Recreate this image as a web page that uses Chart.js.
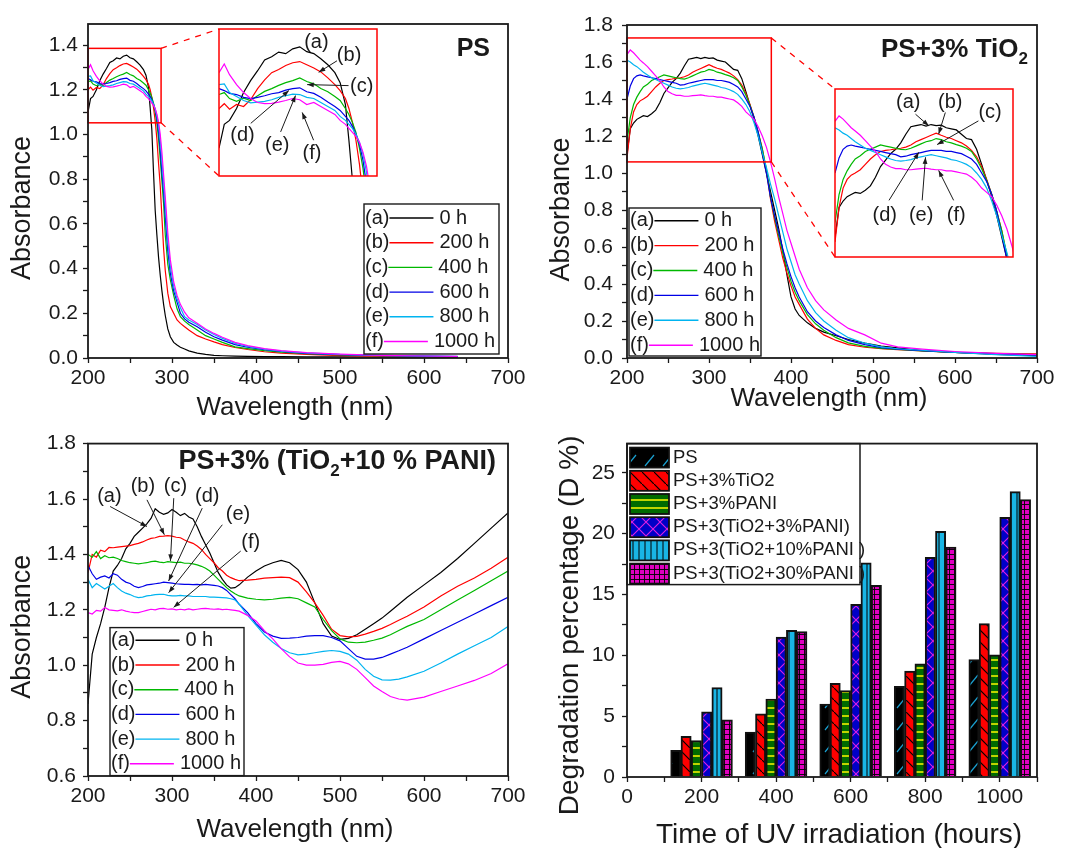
<!DOCTYPE html>
<html>
<head>
<meta charset="utf-8">
<script src="https://cdn.jsdelivr.net/npm/chart.js@4.4.1/dist/chart.umd.min.js"></script>
<style>
  html, body { margin: 0; padding: 0; background: #fff; overflow: hidden; }
  body { width: 1069px; height: 848px; position: relative; }
  canvas { position: absolute; }
</style>
</head>
<body>
<canvas id="cPS"  width="534" height="424" style="left:0;top:0"></canvas>
<canvas id="cTi"  width="535" height="424" style="left:534px;top:0"></canvas>
<canvas id="cPa"  width="534" height="424" style="left:0;top:424px"></canvas>
<canvas id="cBar" width="535" height="424" style="left:534px;top:424px"></canvas>
<canvas id="iPS"  width="160" height="149" style="left:218px;top:28px"></canvas>
<canvas id="iTi"  width="180" height="170" style="left:834px;top:88px"></canvas>

<script>
/*********************************************************
 * DATA : PS
 *********************************************************/
const psWl = [200,203,206,210,214,218,222,226,230,234, 238,242,246,250,254,258,262,266,269,272,
  274,276,278,280,282,284,286,288,290,292, 295,298,302,306,310,315,320,330,340,350,
  360,375,390,410,430,460,500,550,600,640];

const ps0 = [1.10,1.16,1.17,1.20,1.24,1.27,1.295,1.322,1.33,1.342, 1.338,1.35,1.355,1.343,1.338,1.325,1.31,1.29,1.265,1.21,
  1.12,1.02,0.83,0.66,0.55,0.45,0.37,0.30,0.24,0.19, 0.13,0.095,0.07,0.058,0.048,0.04,0.032,0.022,0.016,0.012,
  0.010,0.008,0.007,0.006,0.006,0.005,0.005,0.004,0.004,0.003];
const ps200 = [1.20,1.212,1.198,1.21,1.205,1.222,1.25,1.272,1.29,1.298, 1.308,1.315,1.318,1.31,1.302,1.292,1.277,1.26,1.245,1.225,
  1.20,1.165,1.12,1.06,0.98,0.87,0.77,0.63,0.49,0.39, 0.29,0.23,0.20,0.17,0.155,0.14,0.125,0.10,0.085,0.072,
  0.06,0.047,0.038,0.028,0.022,0.016,0.011,0.008,0.006,0.005];
const ps400 = [1.235,1.24,1.225,1.218,1.226,1.22,1.232,1.243,1.25,1.258, 1.265,1.27,1.277,1.268,1.262,1.25,1.242,1.23,1.22,1.20,
  1.185,1.165,1.14,1.10,1.05,0.98,0.89,0.79,0.69,0.55, 0.42,0.35,0.28,0.22,0.185,0.165,0.15,0.125,0.10,0.085,
  0.07,0.05,0.042,0.033,0.026,0.019,0.014,0.010,0.008,0.006];
const ps600 = [1.25,1.245,1.238,1.235,1.228,1.225,1.228,1.232,1.237,1.24, 1.246,1.25,1.252,1.242,1.238,1.228,1.216,1.205,1.195,1.18,
  1.17,1.155,1.135,1.11,1.07,1.01,0.93,0.83,0.74,0.63, 0.48,0.38,0.30,0.25,0.20,0.175,0.16,0.14,0.115,0.095,
  0.08,0.06,0.048,0.037,0.029,0.021,0.015,0.011,0.008,0.006];
const ps800 = [1.26,1.262,1.24,1.23,1.22,1.214,1.216,1.218,1.222,1.228, 1.232,1.236,1.235,1.228,1.225,1.215,1.205,1.195,1.18,1.17,
  1.16,1.15,1.135,1.115,1.085,1.04,0.97,0.88,0.78,0.68, 0.52,0.41,0.32,0.265,0.225,0.185,0.17,0.15,0.125,0.105,
  0.088,0.066,0.052,0.04,0.031,0.023,0.016,0.012,0.009,0.007];
const ps1000 = [1.29,1.312,1.285,1.26,1.24,1.225,1.215,1.212,1.213,1.216, 1.22,1.225,1.222,1.21,1.215,1.205,1.195,1.185,1.17,1.16,
  1.15,1.14,1.13,1.115,1.09,1.055,1.00,0.92,0.82,0.72, 0.56,0.44,0.34,0.28,0.24,0.205,0.18,0.155,0.13,0.11,
  0.093,0.07,0.055,0.042,0.033,0.024,0.017,0.012,0.009,0.007];

/*********************************************************
 * DATA : PS + 3% TiO2
 *********************************************************/
const tiWl = [200,204,208,212,216,220,225,230,235,240, 245,250,255,260,265,270,275,280,285,290,
  295,300,305,310,315,320,325,330,335,340, 345,350,355,360,365,370,375,380,385,390,
  395,400,405,410,420,430,440,455,470,490, 510,530,560,600,650,700];

const ti0 = [1.10,1.24,1.27,1.29,1.30,1.31,1.305,1.32,1.34,1.38, 1.43,1.46,1.49,1.51,1.54,1.58,1.615,1.62,1.625,1.618,
  1.625,1.62,1.622,1.61,1.605,1.60,1.58,1.56,1.555,1.51, 1.44,1.365,1.29,1.20,1.10,1.00,0.90,0.80,0.70,0.58,
  0.45,0.33,0.265,0.23,0.19,0.16,0.14,0.12,0.10,0.08, 0.065,0.055,0.04,0.03,0.02,0.013];
const ti200 = [1.08,1.24,1.33,1.37,1.39,1.40,1.415,1.44,1.465,1.485, 1.50,1.505,1.508,1.512,1.515,1.52,1.53,1.545,1.555,1.565,
  1.575,1.585,1.575,1.566,1.56,1.55,1.54,1.525,1.505,1.475, 1.43,1.37,1.30,1.22,1.13,1.01,0.86,0.74,0.64,0.54,
  0.46,0.39,0.33,0.29,0.21,0.16,0.125,0.095,0.072,0.058, 0.05,0.045,0.038,0.03,0.025,0.022];
const ti400 = [1.17,1.30,1.37,1.41,1.44,1.465,1.48,1.50,1.51,1.52, 1.53,1.525,1.52,1.515,1.51,1.508,1.515,1.525,1.535,1.545,
  1.55,1.56,1.555,1.545,1.54,1.532,1.525,1.515,1.50,1.465, 1.42,1.365,1.30,1.22,1.13,1.02,0.87,0.76,0.66,0.57,
  0.49,0.415,0.355,0.31,0.235,0.185,0.15,0.11,0.082,0.063, 0.052,0.046,0.038,0.03,0.024,0.019];
const ti600 = [1.40,1.47,1.51,1.525,1.53,1.525,1.52,1.515,1.51,1.505, 1.50,1.495,1.49,1.485,1.475,1.478,1.485,1.49,1.495,1.50,
  1.505,1.505,1.505,1.50,1.50,1.495,1.49,1.478,1.465,1.44, 1.40,1.36,1.30,1.22,1.11,1.00,0.87,0.77,0.68,0.59,
  0.51,0.44,0.38,0.33,0.25,0.20,0.165,0.125,0.095,0.072, 0.056,0.048,0.04,0.03,0.022,0.016];
const ti800 = [1.61,1.60,1.585,1.575,1.56,1.545,1.53,1.515,1.505,1.495, 1.485,1.475,1.465,1.458,1.455,1.458,1.462,1.47,1.475,1.48,
  1.485,1.48,1.475,1.47,1.462,1.458,1.45,1.44,1.425,1.40, 1.37,1.33,1.27,1.20,1.11,1.03,0.94,0.86,0.77,0.68,
  0.59,0.52,0.45,0.40,0.31,0.245,0.20,0.15,0.11,0.08, 0.06,0.05,0.042,0.03,0.018,0.009];
const ti1000 = [1.64,1.665,1.65,1.63,1.61,1.595,1.575,1.55,1.525,1.50, 1.465,1.44,1.428,1.42,1.42,1.415,1.415,1.418,1.42,1.422,
  1.418,1.415,1.415,1.41,1.41,1.405,1.40,1.395,1.38,1.36, 1.33,1.31,1.29,1.25,1.20,1.14,1.06,0.97,0.87,0.78,
  0.69,0.62,0.55,0.48,0.38,0.31,0.26,0.205,0.16,0.125, 0.08,0.06,0.048,0.035,0.025,0.018];

/*********************************************************
 * DATA : PS + 3% (TiO2 + 10% PANI)
 *********************************************************/
const paWl = [200,205,210,215,220,225,230,235,240,245, 250,255,260,265,270,275,280,285,290,295,
  300,305,310,315,320,325,330,335,340,345, 350,355,360,365,370,375,380,390,400,410,
  420,430,440,450,460,470,480,490,500,510, 520,530,540,550,560,570,580,600,620,640,
  660,680,700];

const pa0 = [0.86,1.04,1.10,1.15,1.21,1.28,1.34,1.36,1.385,1.42, 1.44,1.465,1.48,1.495,1.51,1.53,1.565,1.552,1.545,1.55,
  1.562,1.552,1.54,1.548,1.535,1.528,1.50,1.465,1.435,1.405, 1.37,1.335,1.31,1.29,1.278,1.28,1.29,1.318,1.34,1.358,
  1.37,1.378,1.37,1.345,1.30,1.225,1.15,1.105,1.093,1.097, 1.11,1.13,1.15,1.17,1.195,1.22,1.245,1.29,1.335,1.385,
  1.44,1.495,1.55];
const pa200 = [1.334,1.40,1.39,1.415,1.41,1.425,1.424,1.426,1.428,1.43, 1.432,1.436,1.44,1.445,1.452,1.458,1.46,1.465,1.466,1.468,
  1.466,1.462,1.46,1.452,1.445,1.44,1.43,1.418,1.40,1.385, 1.37,1.352,1.34,1.325,1.316,1.31,1.305,1.307,1.31,1.314,
  1.316,1.318,1.316,1.30,1.265,1.225,1.18,1.13,1.107,1.102, 1.104,1.112,1.122,1.133,1.147,1.162,1.177,1.21,1.25,1.285,
  1.315,1.35,1.39];
const pa400 = [1.40,1.39,1.41,1.385,1.395,1.388,1.39,1.385,1.378,1.374, 1.37,1.368,1.366,1.368,1.37,1.374,1.376,1.372,1.37,1.374,
  1.372,1.37,1.372,1.368,1.368,1.366,1.362,1.357,1.35,1.34, 1.325,1.31,1.295,1.28,1.268,1.258,1.25,1.242,1.238,1.236,
  1.238,1.242,1.245,1.24,1.225,1.21,1.165,1.125,1.095,1.083, 1.081,1.083,1.09,1.098,1.11,1.125,1.14,1.165,1.20,1.235,
  1.27,1.305,1.34];
const pa600 = [1.36,1.33,1.31,1.318,1.322,1.315,1.33,1.325,1.31,1.30, 1.295,1.285,1.28,1.284,1.29,1.292,1.294,1.296,1.30,1.298,
  1.296,1.294,1.293,1.292,1.292,1.291,1.292,1.29,1.292,1.29, 1.288,1.286,1.28,1.27,1.255,1.24,1.22,1.19,1.15,1.12,
  1.105,1.097,1.098,1.10,1.105,1.107,1.107,1.10,1.088,1.06, 1.032,1.022,1.022,1.028,1.04,1.052,1.065,1.095,1.125,1.155,
  1.185,1.215,1.245];
const pa800 = [1.31,1.28,1.295,1.285,1.275,1.285,1.295,1.28,1.268,1.26, 1.255,1.248,1.244,1.246,1.25,1.252,1.255,1.256,1.256,1.252,
  1.25,1.25,1.252,1.25,1.25,1.248,1.248,1.248,1.248,1.246, 1.246,1.245,1.244,1.243,1.24,1.236,1.22,1.18,1.145,1.11,
  1.083,1.06,1.045,1.037,1.04,1.045,1.05,1.053,1.05,1.04, 1.018,0.985,0.96,0.947,0.946,0.95,0.958,0.978,1.008,1.04,
  1.07,1.10,1.14];
const pa1000 = [1.19,1.185,1.198,1.195,1.208,1.20,1.198,1.196,1.20,1.195, 1.192,1.19,1.19,1.194,1.198,1.202,1.20,1.204,1.205,1.202,
  1.203,1.20,1.202,1.20,1.203,1.20,1.202,1.204,1.205,1.203, 1.202,1.203,1.201,1.202,1.20,1.198,1.195,1.18,1.16,1.125,
  1.095,1.06,1.03,1.008,1.0,1.0,1.003,1.01,1.014,1.005, 0.985,0.955,0.925,0.905,0.887,0.878,0.874,0.885,0.905,0.925,
  0.945,0.97,1.005];

/*********************************************************
 * DATA : DEGRADATION (%)
 *********************************************************/
const hours    = [200, 400, 600, 800, 1000];
const degPS    = [2.2, 3.7, 6.0, 7.45, 9.65];
const degTiO2  = [3.35, 5.2, 7.7, 8.7, 12.6];
const degPANI  = [3.0, 6.4, 7.1, 9.3, 10.05];
const degTP3   = [5.35, 11.5, 14.2, 18.05, 21.35];
const degTP10  = [7.35, 12.05, 17.6, 20.2, 23.45];
const degTP30  = [4.7, 11.95, 15.75, 18.9, 22.8];
const barNames = ['PS', 'PS+3%TiO2', 'PS+3%PANI', 'PS+3(TiO2+3%PANI)', 'PS+3(TiO2+10%PANI )', 'PS+3(TiO2+30%PANI )'];

const letters    = ['(a)', '(b)', '(c)', '(d)', '(e)', '(f)'];
const hourLabels = ['0 h', '200 h', '400 h', '600 h', '800 h', '1000 h'];

/*********************************************************
 * STYLE
 *********************************************************/
const FONT = '"Liberation Sans", Arial, sans-serif';
const INK  = '#1a1a1a';
const lineColors = ['#000000', '#ff0000', '#00b800', '#0000e6', '#00b4f0', '#ff00ff'];

Chart.defaults.font.family = FONT;
Chart.defaults.color = INK;

/*********************************************************
 * PLUGINS
 *********************************************************/
const framePlugin = {
  id: 'frame',
  afterDraw(chart, args, o) {
    const { ctx, chartArea: a } = chart;
    ctx.save();
    ctx.strokeStyle = o.color || INK;
    ctx.lineWidth = o.width || 1.8;
    ctx.strokeRect(a.left, a.top, a.right - a.left, a.bottom - a.top);
    ctx.restore();
  }
};

// axis titles drawn by hand so they can sit where the original has them
const axisTitles = {
  id: 'axisTitles',
  afterDraw(chart, args, o) {
    const { ctx, chartArea: a } = chart;
    ctx.save();
    ctx.fillStyle = INK;
    ctx.textAlign = 'center'; ctx.textBaseline = 'middle';
    ctx.font = o.ySize + 'px ' + FONT;
    ctx.translate(o.yx, (a.top + a.bottom) / 2 + o.yShift);
    ctx.rotate(-Math.PI / 2);
    ctx.fillText(o.yText, 0, 0);
    ctx.setTransform(1, 0, 0, 1, 0, 0);
    ctx.font = o.xSize + 'px ' + FONT;
    ctx.fillText(o.xText, (a.left + a.right) / 2 + o.xShift, o.xy);
    ctx.restore();
  }
};

const seriesLegend = {
  id: 'seriesLegend',
  afterDraw(chart, args, o) {
    const { ctx, chartArea: a } = chart;
    const x0 = a.left + o.dx, y0 = a.top + o.dy;
    ctx.save();
    ctx.fillStyle = '#fff';
    ctx.fillRect(x0, y0, o.w, o.h);
    ctx.strokeStyle = INK; ctx.lineWidth = 1.4;
    ctx.strokeRect(x0, y0, o.w, o.h);
    ctx.font = '20px ' + FONT;
    ctx.textBaseline = 'middle';
    letters.forEach((l, i) => {
      const y = y0 + o.first + i * o.rowH;
      ctx.fillStyle = INK;
      ctx.fillText(l, x0 + 1, y);
      const lx = x0 + 1 + ctx.measureText(l).width;
      ctx.strokeStyle = lineColors[i]; ctx.lineWidth = 1.4;
      ctx.beginPath(); ctx.moveTo(lx, y); ctx.lineTo(lx + 44, y); ctx.stroke();
      ctx.fillText(hourLabels[i], lx + 50, y);
    });
    ctx.restore();
  }
};

function arrow(ctx, x1, y1, x2, y2) {
  const ang = Math.atan2(y2 - y1, x2 - x1);
  ctx.beginPath(); ctx.moveTo(x1, y1); ctx.lineTo(x2, y2); ctx.stroke();
  ctx.beginPath();
  ctx.moveTo(x2, y2);
  ctx.lineTo(x2 - 7 * Math.cos(ang - 0.35), y2 - 7 * Math.sin(ang - 0.35));
  ctx.lineTo(x2 - 7 * Math.cos(ang + 0.35), y2 - 7 * Math.sin(ang + 0.35));
  ctx.closePath(); ctx.fill();
}

// curve labels: [text, x, y, arrowFromX, arrowFromY, arrowToX, arrowToY] in data units
const notesPlugin = {
  id: 'notes',
  afterDraw(chart, args, o) {
    const { ctx, scales: { x, y } } = chart;
    ctx.save();
    ctx.font = '20px ' + FONT;
    ctx.textAlign = 'center'; ctx.textBaseline = 'middle';
    ctx.fillStyle = INK; ctx.strokeStyle = INK; ctx.lineWidth = 1;
    o.items.forEach(n => {
      ctx.fillText(n[0], x.getPixelForValue(n[1]), y.getPixelForValue(n[2]));
      if (n.length > 3) {
        arrow(ctx, x.getPixelForValue(n[3]), y.getPixelForValue(n[4]),
                   x.getPixelForValue(n[5]), y.getPixelForValue(n[6]));
      }
    });
    ctx.restore();
  }
};

const zoomBoxPlugin = {
  id: 'zoomBox',
  afterDatasetsDraw(chart, args, o) {
    const { ctx, scales: { x, y } } = chart;
    const l = x.getPixelForValue(o.x0), r = x.getPixelForValue(o.x1);
    const t = y.getPixelForValue(o.y1), b = y.getPixelForValue(o.y0);
    const bx = o.box.left + 1 - o.origin[0];
    const bt = o.box.top + 1 - o.origin[1];
    const bb = o.box.top + o.box.height - 1 - o.origin[1];
    ctx.save();
    ctx.strokeStyle = '#ff0000'; ctx.lineWidth = 1.5;
    ctx.strokeRect(l, t, r - l, b - t);
    ctx.setLineDash([6, 6]); ctx.lineWidth = 1.3;
    ctx.beginPath();
    ctx.moveTo(r, t); ctx.lineTo(bx, bt);
    ctx.moveTo(r, b); ctx.lineTo(bx, bb);
    ctx.stroke();
    ctx.restore();
  }
};

const panelTitle = {
  id: 'panelTitle',
  afterDraw(chart, args, o) {
    const { ctx, chartArea: a } = chart;
    const big = 'bold ' + o.size + 'px ' + FONT, small = 'bold ' + Math.round(o.size * 0.64) + 'px ' + FONT;
    ctx.save();
    let total = 0;
    o.parts.forEach(p => { ctx.font = p.sub ? small : big; total += ctx.measureText(p.t).width; });
    let x = a.right - o.dx - total;
    const base = a.top + o.dy + o.size * 0.36;
    ctx.fillStyle = INK; ctx.textBaseline = 'alphabetic';
    o.parts.forEach(p => {
      ctx.font = p.sub ? small : big;
      ctx.fillText(p.t, x, p.sub ? base + 7 : base);
      x += ctx.measureText(p.t).width;
    });
    ctx.restore();
  }
};

/*********************************************************
 * AXES
 *********************************************************/
function nmAxis(h) {
  return {
    type: 'linear', min: 200, max: 700,
    afterFit: s => { s.height = h; },
    border: { display: false },
    grid: { drawOnChartArea: false, tickLength: 5, tickColor: INK, tickWidth: 1.3 },
    ticks: { stepSize: 50, autoSkip: false, maxRotation: 0, padding: 3, includeBounds: false,
      font: { size: 21 }, callback: v => (v % 100 === 0 ? String(v) : '') }
  };
}

function absAxis(min, max, w, pad) {
  return {
    min, max,
    afterFit: s => { s.width = w; },
    border: { display: false },
    grid: { drawOnChartArea: false, tickLength: 5, tickColor: INK, tickWidth: 1.3 },
    ticks: { stepSize: 0.1, autoSkip: false, padding: pad, includeBounds: false, font: { size: 21 },
      callback: v => (Math.abs(v * 5 - Math.round(v * 5)) < 1e-6 ? v.toFixed(1) : '') }
  };
}

function spectra(wl, series) {
  return series.map((vals, i) => ({
    data: wl.map((w, k) => ({ x: w, y: vals[k] })),
    borderColor: lineColors[i],
    borderWidth: 1.2,
    pointRadius: 0,
    tension: 0,
    order: series.length - i
  }));
}

const baseOpts = { responsive: false, animation: false, events: [] };
const specTitles = { yText: 'Absorbance', ySize: 27, xText: 'Wavelength (nm)', xSize: 26, xShift: -3 };

/*********************************************************
 * INSET PLACEMENT (page px)
 *********************************************************/
const insetPS = { left: 218, top: 28, width: 160, height: 149 };
const insetTi = { left: 834, top: 88, width: 180, height: 170 };

/*********************************************************
 * CHART : PS
 *********************************************************/
const psSeries = [ps0, ps200, ps400, ps600, ps800, ps1000];

new Chart(document.getElementById('cPS'), {
  type: 'line',
  data: { datasets: spectra(psWl, psSeries) },
  options: {
    ...baseOpts,
    layout: { padding: { top: 24, right: 26, left: 0, bottom: 0 } },
    scales: { x: nmAxis(66), y: absAxis(0, 1.494, 88, 5) },
    plugins: {
      legend: { display: false }, tooltip: { enabled: false },
      axisTitles: { ...specTitles, yx: 23, yShift: 17, xy: 408 },
      zoomBox: { x0: 200, x1: 287, y0: 1.052, y1: 1.385, box: insetPS, origin: [0, 0] },
      seriesLegend: { dx: 276, dy: 180, w: 135, h: 150, first: 14, rowH: 24.7 },
      panelTitle: { parts: [{ t: 'PS' }], size: 25, dx: 18, dy: 23 }
    }
  },
  plugins: [zoomBoxPlugin, seriesLegend, panelTitle, axisTitles, framePlugin]
});

new Chart(document.getElementById('iPS'), {
  type: 'line',
  data: { datasets: spectra(psWl, psSeries) },
  options: {
    ...baseOpts,
    layout: { padding: 1 },
    scales: { x: { type: 'linear', min: 200, max: 290, display: false },
              y: { min: 1.03, max: 1.40, display: false } },
    plugins: {
      legend: { display: false }, tooltip: { enabled: false },
      frame: { color: '#ff0000', width: 1.5 },
      notes: { items: [
        ['(a)', 255.5, 1.366],
        ['(b)', 274.1, 1.333, 267.2, 1.32, 256.8, 1.291],
        ['(c)', 281.3, 1.255, 273.8, 1.2575, 250.2, 1.26],
        ['(d)', 213.4, 1.1325, 218.1, 1.1625, 239.8, 1.245],
        ['(e)', 233.2, 1.1075, 235.1, 1.141, 243.6, 1.2325],
        ['(f)', 253.0, 1.0875, 253.9, 1.12, 247.4, 1.19]
      ] }
    }
  },
  plugins: [framePlugin, notesPlugin]
});

/*********************************************************
 * CHART : PS + 3% TiO2
 *********************************************************/
const tiSeries = [ti0, ti200, ti400, ti600, ti800, ti1000];

new Chart(document.getElementById('cTi'), {
  type: 'line',
  data: { datasets: spectra(tiWl, tiSeries) },
  options: {
    ...baseOpts,
    layout: { padding: { top: 25, right: 32, left: 0, bottom: 0 } },
    scales: { x: nmAxis(66), y: absAxis(0, 1.8, 93, 9) },
    plugins: {
      legend: { display: false }, tooltip: { enabled: false },
      axisTitles: { ...specTitles, yx: 28, yShift: 18, xy: 399 },
      zoomBox: { x0: 200, x1: 376, y0: 1.06, y1: 1.73, box: insetTi, origin: [534, 0] },
      seriesLegend: { dx: 2, dy: 183, w: 132, h: 148, first: 12.7, rowH: 24.9 },
      panelTitle: { parts: [{ t: 'PS+3% TiO' }, { t: '2', sub: true }], size: 26, dx: 9, dy: 22.5 }
    }
  },
  plugins: [zoomBoxPlugin, seriesLegend, panelTitle, axisTitles, framePlugin]
});

new Chart(document.getElementById('iTi'), {
  type: 'line',
  data: { datasets: spectra(tiWl, tiSeries) },
  options: {
    ...baseOpts,
    layout: { padding: 1 },
    scales: { x: { type: 'linear', min: 200, max: 376, display: false },
              y: { min: 1.01, max: 1.79, display: false } },
    plugins: {
      legend: { display: false }, tooltip: { enabled: false },
      frame: { color: '#ff0000', width: 1.5 },
      notes: { items: [
        ['(a)', 272.4, 1.727, 279.6, 1.673, 292.7, 1.619],
        ['(b)', 314.0, 1.727, 309.1, 1.681, 302.5, 1.581],
        ['(c)', 353.3, 1.681, 341.8, 1.642, 301.0, 1.532],
        ['(d)', 249.2, 1.204, 253.4, 1.273, 282.9, 1.496],
        ['(e)', 285.2, 1.204, 286.2, 1.273, 289.5, 1.473],
        ['(f)', 319.9, 1.204, 317.3, 1.273, 302.5, 1.412]
      ] }
    }
  },
  plugins: [framePlugin, notesPlugin]
});

/*********************************************************
 * CHART : PS + 3% (TiO2 + 10% PANI)
 *********************************************************/
new Chart(document.getElementById('cPa'), {
  type: 'line',
  data: { datasets: spectra(paWl, [pa0, pa200, pa400, pa600, pa800, pa1000]) },
  options: {
    ...baseOpts,
    layout: { padding: { top: 16, right: 26, left: 0, bottom: 0 } },
    scales: { x: nmAxis(72), y: absAxis(0.6, 1.8, 88, 7) },
    plugins: {
      legend: { display: false }, tooltip: { enabled: false },
      axisTitles: { ...specTitles, yx: 23, yShift: 17, xy: 406 },
      seriesLegend: { dx: 22, dy: 184, w: 134, h: 148, first: 12.7, rowH: 24.7 },
      panelTitle: { parts: [{ t: 'PS+3% (TiO' }, { t: '2', sub: true }, { t: '+10 % PANI)' }], size: 27, dx: 12, dy: 16 },
      notes: { items: [
        ['(a)', 225.5, 1.609, 226.3, 1.573, 270.2, 1.501],
        ['(b)', 265.4, 1.645, 270.2, 1.597, 290.9, 1.471],
        ['(c)', 304.1, 1.645, 302.1, 1.603, 298.1, 1.376],
        ['(d)', 342.0, 1.609, 336.0, 1.567, 296.0, 1.304],
        ['(e)', 378.6, 1.543, 359.9, 1.507, 296.0, 1.262],
        ['(f)', 393.8, 1.442, 381.8, 1.412, 302.0, 1.209]
      ] }
    }
  },
  plugins: [seriesLegend, panelTitle, notesPlugin, axisTitles, framePlugin]
});

/*********************************************************
 * CHART : DEGRADATION BARS
 *********************************************************/
function makePattern(bg, draw, w, h) {
  const c = document.createElement('canvas');
  c.width = w; c.height = h;
  const g = c.getContext('2d');
  g.fillStyle = bg; g.fillRect(0, 0, w, h);
  draw(g, w, h);
  return g.createPattern(c, 'repeat');
}
function seg(g, color, lw, pts) {
  g.strokeStyle = color; g.lineWidth = lw; g.beginPath();
  for (let i = 0; i < pts.length; i += 4) { g.moveTo(pts[i], pts[i + 1]); g.lineTo(pts[i + 2], pts[i + 3]); }
  g.stroke();
}

const barFills = [
  makePattern('#000000', g => seg(g, '#1aa0d0', 1.2, [3, 20, 12, 9]), 18, 22),
  makePattern('#ff0000', (g, w, h) => seg(g, '#000', 1.2, [-1, -1, w + 1, h + 1]), 12, 12),
  makePattern('#006a00', (g, w) => seg(g, '#f0f000', 1.6, [0, 4, w, 4]), 8, 8),
  makePattern('#0000c8', (g, w, h) => seg(g, '#e020e0', 1.1, [0, 0, w, h, w, 0, 0, h]), 14, 14),
  makePattern('#19b5e5', (g, w, h) => seg(g, '#000', 1, [3, 0, 3, h]), 6, 6),
  makePattern('#e000c0', (g, w, h) => seg(g, '#000', 0.9, [0.5, 0, 0.5, h, 0, 0.5, w, 0.5]), 5, 5)
];

const barLegend = {
  id: 'barLegend',
  afterDraw(chart, args, o) {
    const { ctx, chartArea: a } = chart;
    ctx.save();
    ctx.fillStyle = '#fff'; ctx.fillRect(a.left, a.top, o.w, o.h);
    ctx.strokeStyle = INK; ctx.lineWidth = 1.5; ctx.strokeRect(a.left, a.top, o.w, o.h);
    ctx.font = '18.5px ' + FONT; ctx.textBaseline = 'middle';
    chart.data.datasets.forEach((d, i) => {
      const cy = a.top + o.first + i * o.rowH;
      ctx.fillStyle = d.backgroundColor;
      ctx.fillRect(a.left + 3, cy - 10, 39, 20);
      ctx.strokeStyle = '#111'; ctx.lineWidth = 1.8;
      ctx.strokeRect(a.left + 3, cy - 10, 39, 20);
      ctx.fillStyle = INK;
      ctx.fillText(d.label, a.left + 46, cy);
    });
    ctx.restore();
  }
};

const degSeries = [degPS, degTiO2, degPANI, degTP3, degTP10, degTP30];

new Chart(document.getElementById('cBar'), {
  type: 'bar',
  data: {
    datasets: degSeries.map((vals, i) => ({
      label: barNames[i],
      data: hours.map((h, k) => ({ x: h, y: vals[k] })),
      backgroundColor: barFills[i],
      borderColor: '#111',
      borderWidth: 2,
      barThickness: 10.3
    }))
  },
  options: {
    ...baseOpts,
    layout: { padding: { top: 19, right: 32, left: 0, bottom: 0 } },
    scales: {
      x: {
        type: 'linear', min: 0, max: 1100, offset: false,
        afterFit: s => { s.height = 71; },
        border: { display: false },
        grid: { offset: false, drawOnChartArea: false, tickLength: 5, tickColor: INK, tickWidth: 1.3 },
        ticks: { stepSize: 100, autoSkip: false, maxRotation: 0, padding: 2.5, includeBounds: false,
          font: { size: 21 }, callback: v => (v % 200 === 0 ? String(v) : '') }
      },
      y: {
        min: 0, max: 27.4,
        afterFit: s => { s.width = 93; },
        border: { display: false },
        grid: { drawOnChartArea: false, tickLength: 5, tickColor: INK, tickWidth: 1.3 },
        ticks: { stepSize: 2.5, autoSkip: false, padding: 7, includeBounds: false, font: { size: 21 },
          callback: v => (v % 5 === 0 ? String(v) : '') }
      }
    },
    plugins: {
      legend: { display: false }, tooltip: { enabled: false },
      axisTitles: { yText: 'Degradation percentage (D %)', ySize: 28, yx: 36, yShift: 15,
                    xText: 'Time of UV irradiation (hours)', xSize: 28, xShift: 7, xy: 411 },
      barLegend: { w: 233, h: 141, first: 14, rowH: 23.2 }
    }
  },
  plugins: [barLegend, axisTitles, framePlugin]
});
</script>
</body>
</html>
